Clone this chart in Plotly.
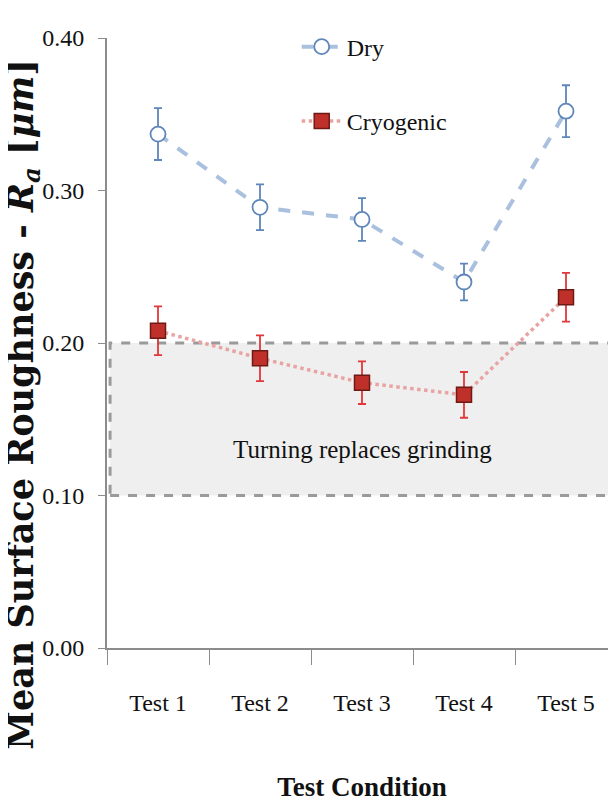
import plotly.graph_objects as go

categories = ["Test 1", "Test 2", "Test 3", "Test 4", "Test 5"]
dry_values = [0.337, 0.289, 0.281, 0.240, 0.352]
dry_errors = [0.017, 0.015, 0.014, 0.012, 0.017]
cryo_values = [0.208, 0.190, 0.174, 0.166, 0.230]
cryo_errors = [0.016, 0.015, 0.014, 0.015, 0.016]
band_low, band_high = 0.10, 0.20
y_ticks = [0.0, 0.1, 0.2, 0.3, 0.4]
y_ticklabels = ["0.00", "0.10", "0.20", "0.30", "0.40"]

SERIF = "Liberation Serif"

fig = go.Figure()

fig.add_shape(type="rect", xref="paper", yref="y",
              x0=0.006, x1=0.988, y0=band_low, y1=band_high,
              fillcolor="rgba(225,225,225,0.55)",
              line=dict(color="#9a9a9a", width=3, dash="dash"), layer="below")

fig.add_trace(go.Scatter(
    x=categories, y=dry_values, name="Dry", legendgroup="dry",
    mode="lines+markers",
    line=dict(color="#a9c0de", width=4, dash="dash"),
    marker=dict(symbol="circle", size=15, color="white",
                line=dict(color="#5f86ba", width=1.8)),
    error_y=dict(type="data", array=dry_errors, visible=True,
                 color="#5f86ba", thickness=1.8, width=4),
))

fig.add_trace(go.Scatter(
    x=categories, y=cryo_values, name="Cryogenic", legendgroup="cryo",
    mode="lines+markers",
    line=dict(color="#e8a3a3", width=3.5, dash="dot"),
    marker=dict(symbol="square", size=15, color="#c0302a",
                line=dict(color="#6e1a14", width=1.5)),
    error_y=dict(type="data", array=cryo_errors, visible=True,
                 color="#e0383a", thickness=1.8, width=4),
))

fig.add_annotation(x=0.5, xref="paper", y=0.13, yref="y",
                   text="Turning replaces grinding", showarrow=False,
                   font=dict(family=SERIF, size=25, color="#111"))

# y-axis title placed as a rotated annotation (centred on the page like the reference)
fig.add_annotation(x=-0.165, xref="paper", y=0.40, yref="paper",
                   xanchor="center", yanchor="middle", textangle=-90,
                   text="<b>Mean Surface Roughness - <i>R</i><sub><i>a</i></sub> [<i>μm</i>]</b>",
                   showarrow=False,
                   font=dict(family="DejaVu Serif", size=35, color="#111"))

fig.update_layout(
    width=616, height=807,
    margin=dict(l=99, r=7, t=30, b=167, autoexpand=False),
    paper_bgcolor="white", plot_bgcolor="white",
    font=dict(family=SERIF, size=23, color="#111"),
    showlegend=True,
    legend=dict(x=0.372, y=1.022, xanchor="left", yanchor="top",
                bgcolor="rgba(255,255,255,0)", traceorder="grouped",
                tracegroupgap=40, itemwidth=40,
                font=dict(family=SERIF, size=24, color="#111")),
    xaxis=dict(type="category", range=[-0.5, 4.5], automargin=False,
               showline=True, linecolor="#8c8c8c", linewidth=2,
               ticks="outside", tickson="boundaries", ticklen=15, tickwidth=1.2,
               tickcolor="#8c8c8c", showgrid=False, zeroline=False,
               ticklabelstandoff=32,
               tickfont=dict(family=SERIF, size=24, color="#111"),
               title=dict(text="<b>Test Condition</b>", standoff=62,
                          font=dict(family=SERIF, size=27, color="#111"))),
    yaxis=dict(range=[0, 0.4], tickvals=y_ticks, ticktext=y_ticklabels,
               automargin=False,
               showline=True, linecolor="#8c8c8c", linewidth=2,
               ticks="outside", ticklen=7, tickwidth=1.2, tickcolor="#8c8c8c",
               showgrid=False, zeroline=False, ticklabelstandoff=9,
               tickfont=dict(family=SERIF, size=24, color="#111")),
)

fig.write_html("out.html")
